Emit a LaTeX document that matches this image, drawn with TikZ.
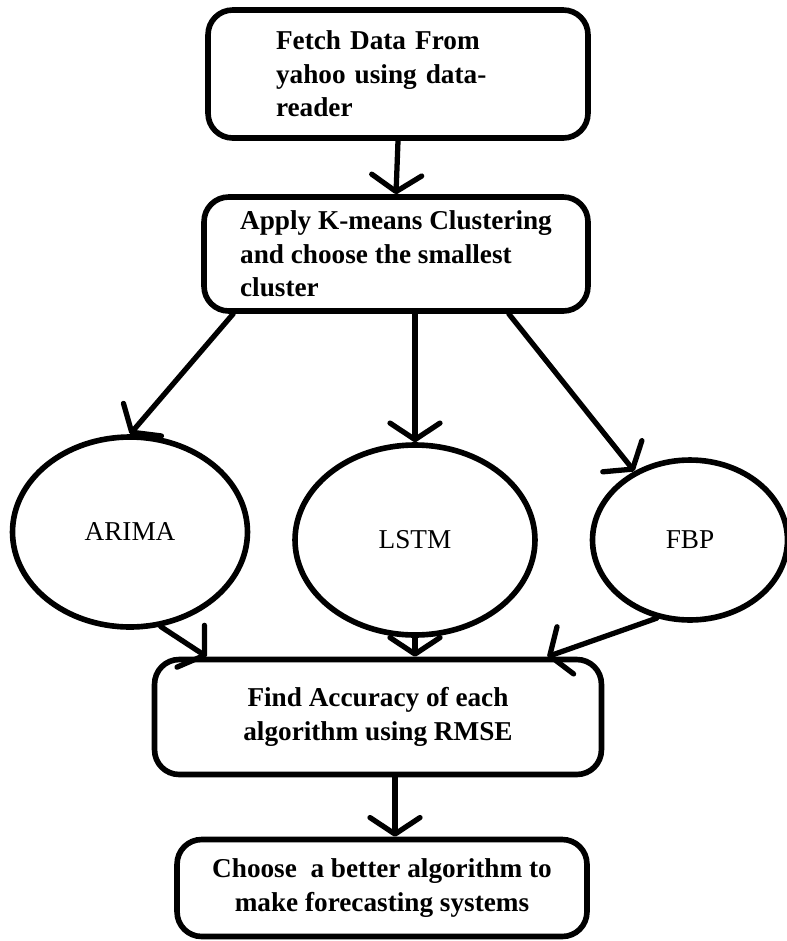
\documentclass[tikz,border=0pt]{standalone}
\usepackage{fontspec}
\setmainfont{Liberation Serif}
\usetikzlibrary{calc,positioning,arrows.meta,shapes.geometric}

\begin{document}
\begin{tikzpicture}[x=0.02cm,y=-0.02cm,>={Straight Barb[length=3.3mm,width=10mm,round]},
    etape/.style={draw,rounded corners=14pt,line width=3.2pt,inner sep=0pt,font=\bfseries\fontsize{15.5}{19}\selectfont},
    algo/.style={draw,ellipse,line width=3.2pt,inner sep=0pt,font=\fontsize{15.5}{18}\selectfont},
    fleche/.style={->,line width=3pt,line cap=round}]

    \useasboundingbox (0,0) rectangle (787,941);

    %Etapes
    \node[etape,align=left,text width=4.88cm,inner xsep=1.36cm,minimum height=2.56cm] (fetch) at (398,74) {Fetch Data From\\yahoo using data-\\reader};
    \node[etape,align=left,minimum width=7.68cm,minimum height=2.28cm] (clus) at (396,254) {Apply K-means Clustering\\and choose the smallest\\cluster};

    %Algorithmes
    \node[algo,minimum width=4.7cm,minimum height=3.8cm] (arima) at (130,532) {ARIMA};
    \node[algo,minimum width=4.8cm,minimum height=3.8cm] (lstm) at (415,540) {LSTM};
    \node[algo,minimum width=3.9cm,minimum height=3.2cm] (fbp) at (690,540) {FBP};

    %Resultat
    \node[etape,align=center,minimum width=8.94cm,minimum height=2.3cm] (res) at (378,717) {Find Accuracy of each\\algorithm using RMSE};
    \node[etape,align=center,minimum width=8.2cm,minimum height=1.94cm] (choix) at (382,888) {Choose \ a better algorithm to\\make forecasting systems};

    %Fleches
    \draw[fleche] (fetch.south) -- (clus.north);
    \draw[fleche] ($(clus.south west)+(32,0)$) -- (arima.north);
    \draw[fleche] (lstm.north |- clus.south) -- (lstm.north);
    \draw[fleche] ($(clus.south east)+(-82,0)$) -- (fbp.129);

    \draw[fleche] (arima.-72) -- ($(res.north west)+(55,0)$);
    \draw[fleche] (lstm.south) -- (lstm.south |- res.north);
    \draw[fleche] (fbp.-113) -- ($(res.north east)+(-57,0)$);

    \draw[fleche] ($(res.south)+(17,0)$) -- ($(choix.north)+(13,0)$);

\end{tikzpicture}
\end{document}
